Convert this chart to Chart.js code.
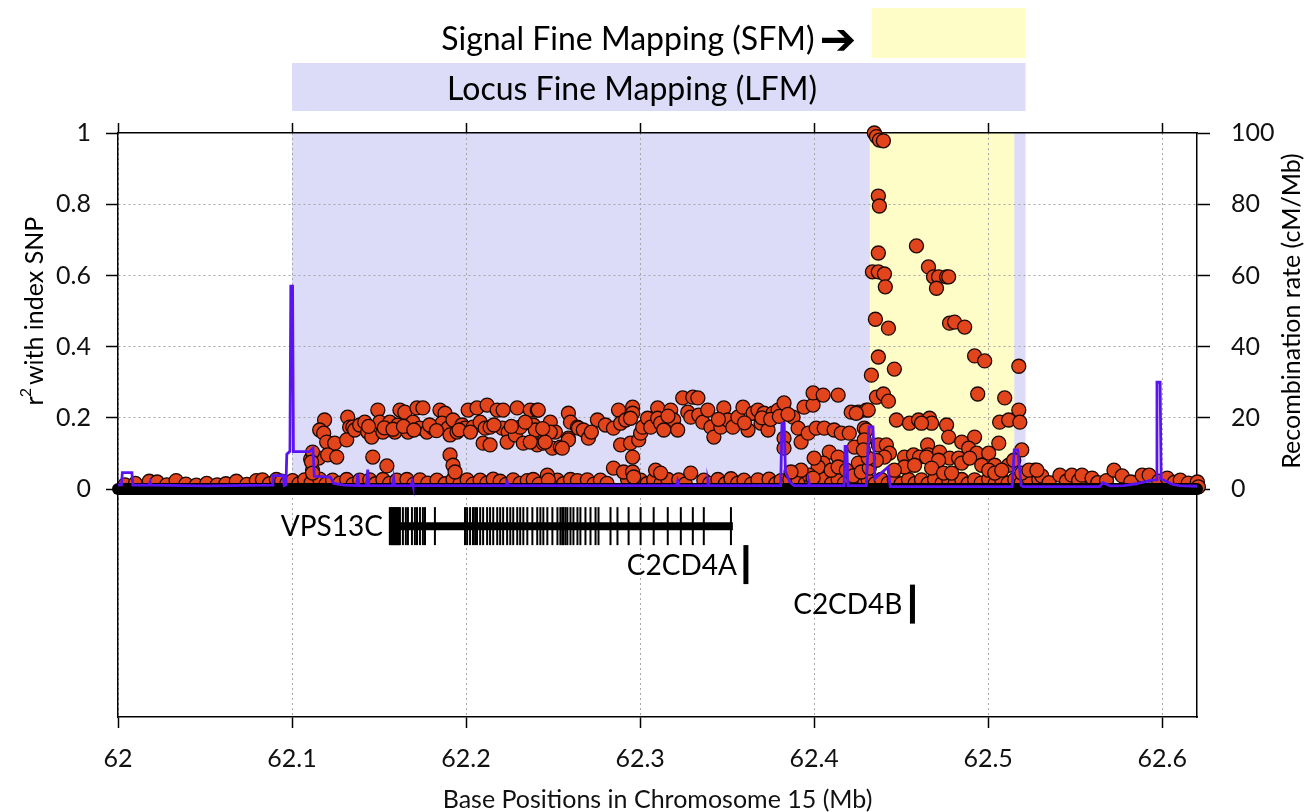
<!DOCTYPE html>
<html><head><meta charset="utf-8">
<script src="https://cdn.jsdelivr.net/npm/chart.js@4.4.1/dist/chart.umd.min.js"></script>
<style>html,body{margin:0;padding:0;background:#fff;}canvas{display:block;}</style>
</head><body>
<canvas id="c" width="1308" height="812"></canvas>
<script>
// ---------- axis ticks ----------
const xTickValues = [62, 62.1, 62.2, 62.3, 62.4, 62.5, 62.6];
const xTickLabels = ['62', '62.1', '62.2', '62.3', '62.4', '62.5', '62.6'];
const r2TickValues = [0, 0.2, 0.4, 0.6, 0.8, 1];
const r2TickLabels = ['0', '0.2', '0.4', '0.6', '0.8', '1'];
const recTickValues = [0, 20, 40, 60, 80, 100];
const recTickLabels = ['0', '20', '40', '60', '80', '100'];

// ---------- fine-mapping regions (Mb) ----------
const regionNames = ['Locus Fine Mapping (LFM)', 'Signal Fine Mapping (SFM)'];
const regionStart = [62.1, 62.432];
const regionEnd = [62.5215, 62.515];
const bannerStart = [62.1, 62.433];
const bannerEnd = [62.5215, 62.5215];

// ---------- SNPs: [position (Mb), r2 with index SNP] ----------
const snpsZeroSpan = [62.0, 62.62]; // many SNPs with r2 = 0 along this span
const snpsLeftLow = [[62.004,0.012],[62.010,0.016],[62.018,0.022],[62.0225,0.020],[62.028,0.012],[62.0334,0.024],[62.039,0.014],[62.045,0.011],[62.051,0.016],[62.057,0.012],[62.062,0.015],[62.068,0.022],[62.074,0.013],[62.0795,0.024],[62.083,0.026],[62.087,0.015],[62.091,0.027],[62.094,0.022],[62.097,0.016]];
const snpsLFMLow = [[62.1003,0.024],[62.1040,0.015],[62.1072,0.026],[62.1110,0.018],[62.1159,0.028],[62.1195,0.014],[62.1233,0.025],[62.1275,0.017],[62.1314,0.027],[62.1350,0.013],[62.1389,0.025],[62.1447,0.026],[62.1480,0.015],[62.1522,0.027],[62.1560,0.016],[62.1602,0.025],[62.1660,0.027],[62.1700,0.014],[62.1735,0.026],[62.1780,0.017],[62.1833,0.025],[62.1880,0.015],[62.1925,0.027],[62.1965,0.016],[62.2006,0.026],[62.2040,0.014],[62.2081,0.025],[62.2120,0.017],[62.2156,0.028],[62.2196,0.022],[62.2230,0.013],[62.2271,0.026],[62.2310,0.016],[62.2352,0.024],[62.2386,0.027],[62.2420,0.014],[62.2525,0.025],[62.2560,0.015],[62.2600,0.027],[62.2640,0.024],[62.2697,0.026],[62.2735,0.014],[62.2772,0.025],[62.2810,0.016],[62.2928,0.027],[62.3003,0.025],[62.3040,0.015],[62.3078,0.026],[62.3120,0.016],[62.3159,0.027],[62.3222,0.026],[62.3260,0.014],[62.3366,0.025],[62.3400,0.016],[62.3447,0.027],[62.3490,0.015],[62.3522,0.029],[62.3560,0.016],[62.3597,0.025],[62.3640,0.014],[62.3677,0.026],[62.3741,0.028],[62.3780,0.015],[62.3810,0.024],[62.3860,0.027],[62.3908,0.026],[62.3950,0.016],[62.3983,0.025],[62.4020,0.017],[62.4058,0.028],[62.4100,0.015],[62.4138,0.026],[62.4175,0.017],[62.4213,0.027],[62.4250,0.016],[62.4288,0.026],[62.4311,0.024],[62.4350,0.015],[62.4386,0.027],[62.4425,0.016],[62.4461,0.026],[62.4500,0.015],[62.4542,0.027],[62.4580,0.016],[62.4617,0.026],[62.4655,0.015],[62.4692,0.027],[62.4735,0.016],[62.4773,0.026],[62.4810,0.016],[62.4848,0.027],[62.4885,0.015],[62.4922,0.026],[62.4960,0.017],[62.5003,0.028],[62.5040,0.016],[62.5078,0.026],[62.5115,0.017],[62.5153,0.027],[62.5190,0.018]];
const snpsRightLow = [[62.5234,0.030],[62.5268,0.053],[62.5291,0.027],[62.5308,0.037],[62.5350,0.018],[62.5412,0.039],[62.5450,0.022],[62.5481,0.039],[62.5520,0.024],[62.5539,0.039],[62.5597,0.031],[62.5630,0.018],[62.5680,0.024],[62.5723,0.053],[62.5770,0.037],[62.5820,0.020],[62.5885,0.039],[62.5925,0.039],[62.5980,0.022],[62.6029,0.031],[62.6070,0.019],[62.6104,0.025],[62.6150,0.017],[62.6202,0.020],[62.6208,0.006]];
const snpsClusterA = [[62.1187,0.194],[62.1159,0.166],[62.1182,0.157],[62.1199,0.132],[62.1245,0.129],[62.1107,0.084],[62.1153,0.087],[62.1205,0.096],[62.1257,0.090],[62.1118,0.053],[62.1118,0.104],[62.1112,0.076],[62.1118,0.045],[62.1320,0.202],[62.1331,0.174],[62.1314,0.138],[62.1349,0.174],[62.1360,0.166],[62.1389,0.180],[62.1418,0.188],[62.1435,0.160],[62.1458,0.146],[62.1464,0.090],[62.1493,0.222],[62.1504,0.188],[62.1522,0.160],[62.1545,0.065],[62.1562,0.188],[62.1591,0.160],[62.1620,0.222],[62.1648,0.216],[62.1608,0.180],[62.1666,0.160],[62.1695,0.188],[62.1718,0.228],[62.1752,0.228],[62.1735,0.171],[62.1775,0.160],[62.1810,0.171],[62.1850,0.222],[62.1879,0.213],[62.1862,0.185],[62.1896,0.171],[62.1908,0.152],[62.1925,0.194],[62.1948,0.160],[62.1908,0.096],[62.1925,0.067],[62.1937,0.048],[62.1977,0.180],[62.1994,0.171],[62.2012,0.222],[62.2040,0.174],[62.2063,0.228],[62.2081,0.188],[62.2098,0.129],[62.2110,0.171],[62.2138,0.174],[62.2138,0.124],[62.2121,0.236],[62.2179,0.222],[62.2213,0.222],[62.2208,0.171],[62.2242,0.160],[62.2236,0.132],[62.2294,0.228],[62.2283,0.152],[62.2311,0.174],[62.2329,0.129],[62.2369,0.222],[62.2409,0.222],[62.2386,0.180],[62.2398,0.166],[62.2409,0.124],[62.2444,0.129],[62.2484,0.188],[62.2513,0.160],[62.2496,0.115],[62.2542,0.118],[62.2588,0.213],[62.2600,0.188],[62.2588,0.143],[62.2467,0.039],[62.2473,0.025],[62.2415,0.222],[62.2484,0.160],[62.2455,0.132],[62.2588,0.138],[62.2553,0.115],[62.2369,0.132],[62.1440,0.176],[62.1530,0.172],[62.1580,0.168],[62.1640,0.176],[62.1700,0.166],[62.1790,0.180],[62.1830,0.164],[62.1960,0.166],[62.2025,0.160],[62.2160,0.180],[62.2260,0.176],[62.2340,0.188],[62.2440,0.170]];
const snpsClusterB = [[62.2640,0.174],[62.2646,0.171],[62.2674,0.166],[62.2703,0.143],[62.2755,0.194],[62.2801,0.180],[62.2847,0.171],[62.2876,0.222],[62.2888,0.185],[62.2917,0.194],[62.2957,0.230],[62.2957,0.213],[62.2945,0.199],[62.2888,0.124],[62.2945,0.129],[62.2957,0.090],[62.2992,0.138],[62.3003,0.157],[62.3015,0.174],[62.3043,0.199],[62.3061,0.174],[62.3101,0.228],[62.3101,0.199],[62.3118,0.185],[62.3136,0.166],[62.3176,0.222],[62.3193,0.194],[62.3216,0.166],[62.3245,0.256],[62.3303,0.258],[62.3332,0.256],[62.3274,0.216],[62.3291,0.202],[62.3337,0.208],[62.3360,0.188],[62.3389,0.222],[62.3407,0.174],[62.3424,0.146],[62.3464,0.174],[62.3481,0.228],[62.3504,0.194],[62.3533,0.174],[62.3562,0.202],[62.3591,0.230],[62.3620,0.166],[62.3649,0.213],[62.3677,0.222],[62.3695,0.185],[62.3712,0.213],[62.3735,0.166],[62.3764,0.213],[62.3793,0.222],[62.3827,0.242],[62.3827,0.143],[62.3827,0.115],[62.3879,0.202],[62.3908,0.171],[62.3925,0.132],[62.3942,0.230],[62.3966,0.157],[62.3994,0.236],[62.3994,0.270],[62.4052,0.264],[62.4138,0.264],[62.4012,0.171],[62.4058,0.171],[62.4115,0.166],[62.4156,0.157],[62.4202,0.157],[62.4213,0.216],[62.4254,0.216],[62.4300,0.222],[62.4288,0.171],[62.4087,0.104],[62.4138,0.090],[62.4052,0.073],[62.4023,0.062],[62.4098,0.053],[62.4138,0.062],[62.4254,0.073],[62.4231,0.118],[62.2847,0.059],[62.2905,0.048],[62.2957,0.048],[62.2963,0.034],[62.3089,0.053],[62.3118,0.045],[62.3291,0.045],[62.3971,0.039],[62.4000,0.087],[62.4185,0.053],[62.4225,0.037],[62.4271,0.048],[62.4317,0.059],[62.3925,0.053],[62.3994,0.031],[62.3867,0.048],[62.3700,0.200],[62.3750,0.196],[62.3800,0.204],[62.3850,0.210],[62.3600,0.186],[62.3450,0.196],[62.3160,0.205],[62.2720,0.160]];
const snpsSFM = [[62.4346,1.000],[62.4358,0.990],[62.4375,0.980],[62.4398,0.978],[62.4369,0.823],[62.4375,0.795],[62.4369,0.663],[62.4588,0.683],[62.4335,0.610],[62.4369,0.610],[62.4404,0.604],[62.4657,0.624],[62.4686,0.596],[62.4715,0.596],[62.4761,0.596],[62.4773,0.596],[62.4703,0.564],[62.4409,0.568],[62.4352,0.477],[62.4427,0.452],[62.4778,0.466],[62.4807,0.469],[62.4865,0.455],[62.4369,0.371],[62.4461,0.337],[62.4329,0.320],[62.4922,0.374],[62.4980,0.360],[62.5176,0.345],[62.4358,0.258],[62.4398,0.267],[62.4427,0.247],[62.4940,0.267],[62.5095,0.256],[62.5176,0.222],[62.4311,0.222],[62.4242,0.213],[62.4473,0.194],[62.4548,0.185],[62.4600,0.194],[62.4663,0.199],[62.4675,0.185],[62.4617,0.185],[62.4761,0.180],[62.5066,0.188],[62.5118,0.194],[62.5182,0.188],[62.4300,0.166],[62.4773,0.146],[62.4848,0.132],[62.4922,0.146],[62.4652,0.124],[62.5061,0.129],[62.5193,0.110],[62.4369,0.124],[62.4415,0.124],[62.4433,0.101],[62.4404,0.090],[62.4358,0.081],[62.4519,0.090],[62.4571,0.096],[62.4606,0.090],[62.4657,0.096],[62.4721,0.104],[62.4778,0.087],[62.4830,0.087],[62.4888,0.115],[62.4934,0.101],[62.5003,0.101],[62.4519,0.062],[62.4577,0.067],[62.4646,0.090],[62.4715,0.081],[62.4848,0.073],[62.4894,0.087],[62.4963,0.067],[62.5038,0.067],[62.5118,0.067],[62.5147,0.081],[62.4675,0.059],[62.4744,0.045],[62.4790,0.045],[62.5003,0.053],[62.5038,0.045],[62.5078,0.053],[62.4311,0.087],[62.4288,0.138],[62.4283,0.110],[62.4461,0.053],[62.5193,0.045],[62.5234,0.053],[62.5280,0.053]];

// ---------- recombination rate (cM/Mb) ----------
const recPos = [62.000,62.0020,62.0025,62.0080,62.0085,62.0180,62.0185,62.0190,62.0500,62.0885,62.0890,62.0950,62.0955,62.0965,62.0970,62.0988,62.0993,62.1003,62.1008,62.1100,62.1120,62.1128,62.1220,62.1240,62.1300,62.1372,62.1378,62.1384,62.1428,62.1435,62.1442,62.1578,62.1584,62.1590,62.1685,62.1690,62.1695,62.2230,62.2236,62.2242,62.3210,62.3216,62.3222,62.3385,62.3390,62.3395,62.3808,62.3815,62.3828,62.3835,62.3860,62.3885,62.3965,62.3970,62.3975,62.4172,62.4178,62.4188,62.4194,62.4300,62.4315,62.4338,62.4350,62.4385,62.4425,62.4437,62.4500,62.5138,62.5150,62.5170,62.5190,62.5200,62.5640,62.5660,62.5700,62.5780,62.5850,62.5940,62.5966,62.5970,62.5988,62.5994,62.6010,62.6060,62.6100,62.6200];
const recRate = [1.2,1.2,4.6,4.6,1.1,1.1,2.0,1.1,0.9,1.1,3.8,3.8,1.0,1.2,9.8,10.6,57,57,10.5,10.5,11.5,3.6,3.4,1.6,1.1,1.0,4.3,1.0,1.0,5.5,1.0,1.0,3.0,1.0,1.0,2.0,1.0,1.0,2.0,1.0,1.0,2.2,1.0,1.0,2.2,1.0,1.0,18.5,18.5,5.0,2.0,1.0,1.0,2.0,1.0,1.0,12,12,1.0,1.0,17.5,17.5,3.0,4.5,6.2,0.7,0.7,0.7,11,11,1.0,0.7,0.7,1.8,0.9,1.0,1.5,2.5,2.6,30,30,2.8,2.5,1.3,1.0,0.8];

// ---------- genes ----------
const geneNames = ['VPS13C', 'C2CD4A', 'C2CD4B'];
const geneStart = [62.1562, 62.3608, 62.4565];
const geneEnd = [62.3533, 62.3608, 62.4565];
const geneTrack = [-0.104, -0.212, -0.323];
const vpsExons = [62.1562,62.1568,62.1574,62.1580,62.1585,62.1591,62.1597,62.1602,62.1608,62.1614,62.1620,62.1637,62.1654,62.1666,62.1689,62.1706,62.1718,62.1735,62.1752,62.1764,62.1821,62.1994,62.2006,62.2023,62.2040,62.2052,62.2063,62.2081,62.2098,62.2121,62.2138,62.2156,62.2179,62.2196,62.2213,62.2236,62.2254,62.2271,62.2294,62.2311,62.2329,62.2352,62.2381,62.2409,62.2427,62.2444,62.2467,62.2496,62.2525,62.2542,62.2553,62.2559,62.2571,62.2582,62.2600,62.2617,62.2640,62.2657,62.2686,62.2715,62.2744,62.2761,62.2830,62.2870,62.2934,62.3003,62.3078,62.3159,62.3234,62.3303,62.3366,62.3522];

// ---------- axis ranges ----------
const X_MIN = 62, X_MAX = 62.62;
const R2_MIN = -0.64, R2_MAX = 1;
const REC_MIN = -64, REC_MAX = 100;

Chart.defaults.font.family = "Lato, 'DejaVu Sans', sans-serif";
Chart.defaults.color = '#111';

const pts = arr => arr.map(([x, y]) => ({x, y}));
const allSnps = [].concat(snpsLeftLow, snpsLFMLow, snpsRightLow, snpsClusterA, snpsClusterB, snpsSFM);

const BLUE = '#dcdcf9', YELLOW = '#fefdc8';
const regionColors = [BLUE, YELLOW];

const annot = {
  id: 'annot',
  beforeDraw(chart) {
    const {ctx} = chart; const xs = chart.scales.x, ys = chart.scales.y;
    ctx.save();
    const yTop = ys.getPixelForValue(1), yZero = ys.getPixelForValue(0);
    for (let i = 0; i < regionNames.length; i++) {
      const a = xs.getPixelForValue(regionStart[i]), b = xs.getPixelForValue(regionEnd[i]);
      ctx.fillStyle = regionColors[i];
      ctx.fillRect(a, yTop, b - a, yZero - yTop);
    }
    const bands = [[63, 111], [8, 58]];
    for (let i = 0; i < regionNames.length; i++) {
      const a = xs.getPixelForValue(bannerStart[i]), b = xs.getPixelForValue(bannerEnd[i]);
      ctx.fillStyle = regionColors[i];
      ctx.fillRect(a, bands[i][0], b - a, bands[i][1] - bands[i][0]);
    }
    ctx.fillStyle = '#000';
    ctx.textBaseline = 'alphabetic';
    ctx.font = "32px Lato";
    ctx.textAlign = 'left';
    ctx.fillText(regionNames[0], xs.getPixelForValue(bannerStart[0]) + 155, 100);
    const s0 = xs.getPixelForValue(bannerStart[1]);
    ctx.textAlign = 'right';
    ctx.fillText(regionNames[1], s0 - 57, 50);
    ctx.textAlign = 'left';
    ctx.font = "bold 44px 'DejaVu Sans'";
    ctx.fillText('\u2794', s0 - 52, 54);
    ctx.restore();
  },
  afterDraw(chart) {
    const {ctx} = chart; const xs = chart.scales.x, ys = chart.scales.y;
    ctx.save();
    ctx.fillStyle = '#000';
    ctx.font = "28px Lato";
    ctx.textAlign = 'right';
    ctx.textBaseline = 'middle';
    const gaps = [7, 9, 10];
    for (let i = 0; i < geneNames.length; i++) {
      ctx.fillText(geneNames[i], xs.getPixelForValue(geneStart[i]) - gaps[i], ys.getPixelForValue(geneTrack[i]) + 1);
    }
    const cy = ys.getPixelForValue(0.5);
    ctx.textAlign = 'left';
    ctx.textBaseline = 'alphabetic';
    ctx.font = "25px Lato";
    const wr = ctx.measureText('r').width;
    const rest = 'with index SNP';
    const wrest = ctx.measureText(rest).width;
    ctx.font = "16px Lato";
    const w2 = ctx.measureText('2').width;
    const total = wr + w2 + 2 + wrest;
    ctx.translate(43, cy);
    ctx.rotate(-Math.PI / 2);
    let u = -total / 2;
    ctx.font = "25px Lato";
    ctx.fillText('r', u, 0); u += wr;
    ctx.font = "16px Lato";
    ctx.fillText('2', u - 1, -12); u += w2 + 2;
    ctx.font = "25px Lato";
    ctx.fillText(rest, u, 0);
    ctx.setTransform(1, 0, 0, 1, 0, 0);
    ctx.translate(1300, cy);
    ctx.rotate(-Math.PI / 2);
    ctx.textAlign = 'center';
    ctx.fillText('Recombination rate (cM/Mb)', 0, 0);
    ctx.restore();
  }
};

const setTicks = vals => s => { s.ticks = vals.map(v => ({value: v})); };

new Chart(document.getElementById('c'), {
  data: {
    datasets: [
      {type: 'line', label: 'Recombination rate', data: recPos.map((p, i) => ({x: p, y: recRate[i]})),
       xAxisID: 'x', yAxisID: 'y2', borderColor: '#5a14f4', borderWidth: 2.8, pointRadius: 0, tension: 0, order: 0, clip: false},
      {type: 'line', label: 'SNPs r2 = 0', data: snpsZeroSpan.map(p => ({x: p, y: 0})),
       xAxisID: 'x', yAxisID: 'y', borderColor: '#000', borderWidth: 12, borderCapStyle: 'round', pointRadius: 0, order: 1, clip: false},
      {type: 'line', label: geneNames[0], data: [{x: geneStart[0], y: geneTrack[0]}, {x: geneEnd[0], y: geneTrack[0]}],
       xAxisID: 'x', yAxisID: 'y', borderColor: '#000', borderWidth: 8, pointRadius: 0, order: 2},
      {type: 'scatter', label: 'VPS13C exons', data: vpsExons.map(p => ({x: p, y: geneTrack[0]})),
       xAxisID: 'x', yAxisID: 'y', pointStyle: 'line', pointRotation: 90, pointRadius: 19,
       borderColor: '#000', pointBorderColor: '#000', borderWidth: 2, pointBorderWidth: 2, order: 2},
      {type: 'scatter', label: 'C2CD4A / C2CD4B', data: [1, 2].map(i => ({x: geneStart[i], y: geneTrack[i]})),
       xAxisID: 'x', yAxisID: 'y', pointStyle: 'line', pointRotation: 90, pointRadius: 19.5,
       borderColor: '#000', pointBorderColor: '#000', borderWidth: 5, pointBorderWidth: 5, order: 2},
      {type: 'scatter', label: 'r2 with index SNP', data: pts(allSnps), xAxisID: 'x', yAxisID: 'y',
       pointRadius: 7, pointBackgroundColor: '#e2441b', backgroundColor: '#e2441b',
       pointBorderColor: '#1a0800', borderColor: '#1a0800', pointBorderWidth: 1.3, borderWidth: 1.3, order: 3, clip: false}
    ]
  },
  options: {
    responsive: false, animation: false, devicePixelRatio: 1, events: [],
    layout: {padding: 0},
    plugins: {legend: {display: false}, tooltip: {enabled: false}},
    scales: {
      x: {type: 'linear', position: 'bottom', min: X_MIN, max: X_MAX,
          afterBuildTicks: setTicks(xTickValues), afterFit: s => { s.height = 95; },
          ticks: {callback: (v, i) => xTickLabels[i], font: {size: 25}, padding: 16, maxRotation: 0, autoSkip: false, color: '#111'},
          grid: {color: '#a6a6a6', lineWidth: 1, tickLength: 11, tickColor: '#000', tickWidth: 1.5},
          border: {color: '#000', width: 1.5, dash: [2, 3]},
          title: {display: true, text: 'Base Positions in Chromosome 15 (Mb)', font: {size: 25, lineHeight: 1}, padding: {top: 0, bottom: 0}, color: '#111'}},
      x2: {type: 'linear', position: 'top', min: X_MIN, max: X_MAX,
          afterBuildTicks: setTicks(xTickValues), afterFit: s => { s.height = 133; },
          ticks: {display: false},
          grid: {drawOnChartArea: false, tickLength: 10, tickColor: '#000', tickWidth: 1.5},
          border: {color: '#000', width: 1.5}},
      y: {type: 'linear', position: 'left', min: R2_MIN, max: R2_MAX,
          afterBuildTicks: setTicks(r2TickValues), afterFit: s => { s.width = 118; },
          ticks: {callback: (v, i) => r2TickLabels[i], font: {size: 25}, padding: 15, color: '#111'},
          grid: {color: c => (c.tick && c.tick.value > 0.01 && c.tick.value < 0.99) ? '#a6a6a6' : 'rgba(0,0,0,0)',
                 lineWidth: 1, tickLength: 12, tickColor: '#000', tickWidth: 1.5},
          border: {color: '#000', width: 1.5, dash: [2, 3]}},
      y2: {type: 'linear', position: 'right', min: REC_MIN, max: REC_MAX,
          afterBuildTicks: setTicks(recTickValues), afterFit: s => { s.width = 111; },
          ticks: {callback: (v, i) => recTickLabels[i], font: {size: 25}, padding: 21, color: '#111'},
          grid: {drawOnChartArea: false, tickLength: 13, tickColor: '#000', tickWidth: 1.5},
          border: {color: '#000', width: 1.5}}
    }
  },
  plugins: [annot]
});
</script>
</body></html>
